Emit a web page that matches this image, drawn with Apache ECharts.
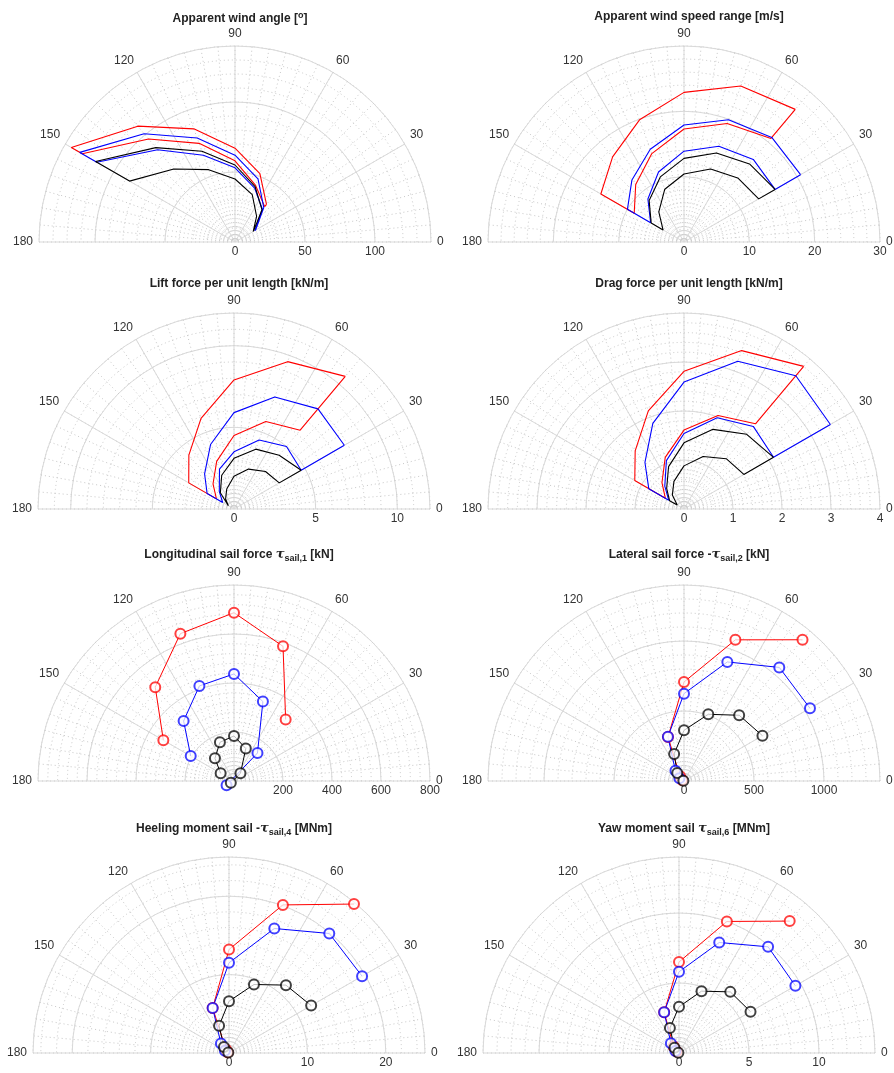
<!DOCTYPE html>
<html style="height: 100%">
<head>
<meta charset="utf-8">
<script src="https://cdn.jsdelivr.net/npm/echarts@6/dist/echarts.min.js"></script>
</head>
<body style="height: 100%; margin: 0; background: #fff">
<div id="container" style="width: 894px; height: 1073px"></div>
<script type="text/javascript">
var angles = [30, 50, 70, 90, 110, 130, 150];

// band plots: outer / inner radius for each angle (null = no point)
var awaRedOut  = [null, 35, 52, 67, 86, 108, 135];
var awaRedIn   = [null, 33, 43, 58, 75, 96, 126];
var awaBlueOut = [17, 32, 48, 62, 79, 101, 128];
var awaBlueIn  = [16.3, 30.5, 41, 53, 66, 86, 114];
var awaBlkOut  = [15.2, 30, 42, 55, 69, 88, 115];
var awaBlkIn   = [15, 24, 36, 45, 55, 68, 87];

var awsRedOut  = [null, 26.5, 25.4, 22.9, 19.9, 17.0, 14.7];
var awsRedIn   = [null, 20.7, 19.3, 17.3, 14.4, 11.5, 8.8];
var awsBlueOut = [20.6, 20.9, 19.9, 17.9, 15.1, 12.4, 10.0];
var awsBlueIn  = [16.1, 16.5, 15.6, 13.9, 11.4, 8.6, 5.9];
var awsBlkOut  = [16.1, 15.6, 14.5, 12.8, 10.6, 8.3, 5.8];
var awsBlkIn   = [13.2, 12.8, 11.9, 10.4, 8.6, 6.0, 3.7];

var liftRedOut  = [null, 10.6, 9.6, 7.9, 5.9, 4.3, 3.2];
var liftRedIn   = [null, 6.3, 5.7, 4.5, 3.1, 2.0, 1.24];
var liftBlueOut = [7.8, 8.0, 7.3, 5.9, 4.2, 2.8, 1.9];
var liftBlueIn  = [4.75, 5.0, 4.5, 3.5, 2.6, 1.4, 0.8];
var liftBlkOut  = [4.75, 4.3, 3.9, 3.1, 2.2, 1.3, 0.4];
var liftBlkIn   = [3.2, 3.0, 2.6, 2.0, 1.3, 0.8, 0.3];

var dragRedOut  = [null, 3.80, 3.44, 2.81, 2.13, 1.55, 1.16];
var dragRedIn   = [null, 2.27, 2.03, 1.61, 1.12, 0.70, 0.44];
var dragBlueOut = [3.45, 3.55, 3.21, 2.59, 1.86, 1.24, 0.83];
var dragBlueIn  = [2.11, 2.20, 1.98, 1.54, 1.05, 0.61, 0.36];
var dragBlkOut  = [2.11, 1.99, 1.73, 1.35, 0.92, 0.55, 0.34];
var dragBlkIn   = [1.41, 1.34, 1.14, 0.88, 0.60, 0.37, 0.16];

// marker plots
var lonRed  = [null, 328, 585, 687, 640, 500, 333];
var lonBlue = [-35, 149, 345, 437, 413, 320, 204];
var lonBlk  = [-15, 41, 141, 184, 168, 121, 63];

var latRed  = [null, 1317, 1073, 707, 334, 44, 15];
var latBlue = [1039, 1059, 905, 624, 336, 95, 38];
var latBlk  = [647, 613, 507, 362, 206, 75, 5];

var heelRed  = [null, 24.8, 20.1, 13.2, 6.1, 0.6, 0.2];
var heelBlue = [19.6, 19.9, 16.9, 11.5, 6.1, 1.6, 0.6];
var heelBlk  = [12.1, 11.3, 9.3, 6.6, 3.7, 1.0, 0.1];

var yawRed  = [null, 12.3, 10.0, 6.5, 3.1, 0.6, 0.2];
var yawBlue = [9.6, 9.9, 8.4, 5.8, 3.1, 0.9, 0.3];
var yawBlk  = [5.9, 5.7, 4.7, 3.3, 1.9, 0.5, 0.05];

var panels = [
  {title: '{b|Apparent wind angle [}{p|o}{b|]}', cx: 235, cy: 242, ty: 6, max: 140, interval: 50, minor: 10, showMax: false,
   bands: [[awaRedOut, awaRedIn, 'red'], [awaBlueOut, awaBlueIn, 'blue'], [awaBlkOut, awaBlkIn, 'black']]},
  {title: '{b|Apparent wind speed range [m/s]}', cx: 684, cy: 242, ty: 6, max: 30, interval: 10, minor: 2, showMax: true,
   bands: [[awsRedOut, awsRedIn, 'red'], [awsBlueOut, awsBlueIn, 'blue'], [awsBlkOut, awsBlkIn, 'black']]},
  {title: '{b|Lift force per unit length [kN/m]}', cx: 234, cy: 509, ty: 273, max: 12, interval: 5, minor: 1, showMax: false,
   bands: [[liftRedOut, liftRedIn, 'red'], [liftBlueOut, liftBlueIn, 'blue'], [liftBlkOut, liftBlkIn, 'black']]},
  {title: '{b|Drag force per unit length [kN/m]}', cx: 684, cy: 509, ty: 273, max: 4, interval: 1, minor: 0.2, showMax: true,
   bands: [[dragRedOut, dragRedIn, 'red'], [dragBlueOut, dragBlueIn, 'blue'], [dragBlkOut, dragBlkIn, 'black']]},
  {title: '{b|Longitudinal sail force }{t|τ}{s|sail,1}{b| [kN]}', cx: 234, cy: 781, ty: 541, max: 800, interval: 200, minor: 40, showMax: true, hideZero: true,
   lines: [[lonRed, 'red'], [lonBlue, 'blue'], [lonBlk, 'black']]},
  {title: '{b|Lateral sail force -}{t|τ}{s|sail,2}{b| [kN]}', cx: 684, cy: 781, ty: 541, max: 1400, interval: 500, minor: 100, showMax: false,
   lines: [[latRed, 'red'], [latBlue, 'blue'], [latBlk, 'black']]},
  {title: '{b|Heeling moment sail -}{t|τ}{s|sail,4}{b| [MNm]}', cx: 229, cy: 1053, ty: 815, max: 25, interval: 10, minor: 2, showMax: false,
   lines: [[heelRed, 'red'], [heelBlue, 'blue'], [heelBlk, 'black']]},
  {title: '{b|Yaw moment sail }{t|τ}{s|sail,6}{b| [MNm]}', cx: 679, cy: 1053, ty: 815, max: 14, interval: 5, minor: 1, showMax: false,
   lines: [[yawRed, 'red'], [yawBlue, 'blue'], [yawBlk, 'black']]}
];

var colors = {red: '#ff0000', blue: '#0000ff', black: '#000000'};
var gridSolid = '#d9d9d9', gridDot = '#c8c8c8';

function pts(r) {
  var out = [];
  for (var i = 0; i < angles.length; i++) {
    if (r[i] !== null) out.push([r[i], angles[i]]);
  }
  return out;
}

var titles = [], polars = [], angleAxes = [], radiusAxes = [], series = [];
panels.forEach(function (p, idx) {
  titles.push({
    text: p.title, left: p.cx, top: p.ty, textAlign: 'center',
    textStyle: {
      fontFamily: 'Liberation Sans', fontSize: 12,
      rich: {
        b: {fontWeight: 'bold', fontSize: 12, fontFamily: 'Liberation Sans', color: '#222'},
        p: {fontWeight: 'bold', fontSize: 9, fontFamily: 'Liberation Sans', color: '#222', padding: [0, 0, 7, 0]},
        t: {fontStyle: 'italic', fontWeight: 'bold', fontSize: 13, fontFamily: 'DejaVu Serif', color: '#222'},
        s: {fontWeight: 'bold', fontSize: 9, fontFamily: 'Liberation Sans', color: '#222', padding: [8, 0, 0, 0]}
      }
    }
  });
  // dotted minor grid (own polar so arcs stay in the half circle)
  var dotIdx = polars.length;
  polars.push({center: [p.cx, p.cy], radius: 196});
  angleAxes.push({
    polarIndex: dotIdx, type: 'value', min: 0, max: 180, interval: 5,
    startAngle: 0, endAngle: 180, clockwise: false,
    axisLine: {show: false}, axisTick: {show: false}, axisLabel: {show: false},
    splitLine: {show: true, lineStyle: {color: gridDot, type: [1, 3], width: 1}}
  });
  radiusAxes.push({
    polarIndex: dotIdx, type: 'value', min: 0, max: p.max, interval: p.minor,
    axisLine: {show: false}, axisTick: {show: false}, axisLabel: {show: false},
    splitLine: {show: true, lineStyle: {color: gridDot, type: [1, 3], width: 1}}
  });
  // main grid with labels
  var mainIdx = polars.length;
  polars.push({center: [p.cx, p.cy], radius: 196});
  angleAxes.push({
    polarIndex: mainIdx, type: 'value', min: 0, max: 180, interval: 30,
    startAngle: 0, endAngle: 180, clockwise: false,
    axisLine: {show: false}, axisTick: {show: false},
    axisLabel: {color: '#333', fontSize: 12, fontFamily: 'Liberation Sans', margin: 6},
    splitLine: {show: true, lineStyle: {color: gridSolid, width: 1}}
  });
  radiusAxes.push({
    polarIndex: mainIdx, type: 'value', min: 0, max: p.max, interval: p.interval,
    axisLine: {show: false}, axisTick: {show: false},
    axisLabel: {
      color: '#333', fontSize: 12, fontFamily: 'Liberation Sans', margin: -16,
      showMaxLabel: p.showMax, showMinLabel: !p.hideZero,
      formatter: function (v) { return String(v); }
    },
    splitLine: {show: true, lineStyle: {color: gridSolid, width: 1}}
  });
  if (p.bands) {
    p.bands.forEach(function (b) {
      var outer = pts(b[0]), inner = pts(b[1]).reverse();
      var data = outer.concat(inner);
      data.push(outer[0]);
      series.push({
        type: 'line', coordinateSystem: 'polar', polarIndex: mainIdx, data: data,
        showSymbol: false, animation: false, silent: true,
        lineStyle: {color: colors[b[2]], width: 1.1}
      });
    });
  } else {
    p.lines.forEach(function (l) {
      series.push({
        type: 'line', coordinateSystem: 'polar', polarIndex: mainIdx, data: pts(l[0]),
        symbol: 'emptyCircle', symbolSize: 10, animation: false, silent: true,
        itemStyle: {color: colors[l[1]], borderWidth: 0.6, opacity: 0.75},
        lineStyle: {color: colors[l[1]], width: 1}
      });
    });
  }
});

var myChart = echarts.init(document.getElementById('container'));
myChart.setOption({
  backgroundColor: '#ffffff',
  title: titles,
  polar: polars,
  angleAxis: angleAxes,
  radiusAxis: radiusAxes,
  series: series
});
</script>
</body>
</html>
